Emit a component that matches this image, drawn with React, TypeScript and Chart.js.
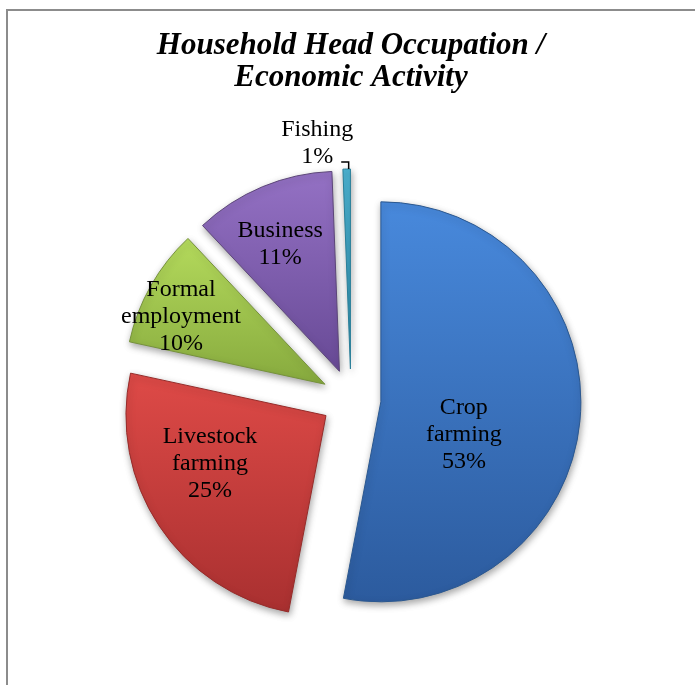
import React, { useEffect, useRef } from 'react';
import { Chart, registerables } from 'chart.js';

Chart.register(...registerables);

// ---- data ----
const categories = ['Crop farming', 'Livestock farming', 'Formal employment', 'Business', 'Fishing'];
const shares = [53.0, 25.4, 9.6, 11.4, 0.6];
const titleLines = ['Household Head Occupation /', 'Economic Activity'];

// ---- styles ----
const colorsTop = ['#4889dc', '#de4a47', '#b4da5c', '#9471c4', '#4cb3d2'];
const colorsBottom = ['#2c5b9e', '#a93030', '#87aa3e', '#684a96', '#2b8aa9'];
const borderColors = ['#2b5890', '#962c2a', '#76923c', '#5c4679', '#2a7f99'];
const labelAngleShift = [16.4, 10.9, -4.5, -2.3, -7.3];
const labelRadius = [0.447, 0.628, 0.794, 0.702, 1.14];

const RADIUS = 200;
const EXPLODE = 30;
const LABEL_FONT = '24px "Liberation Serif", "Times New Roman", serif';
const LABEL_LINE = 27;

function sliceGradient(context: any) {
  const chart = context.chart;
  const area = chart.chartArea;
  const i = context.dataIndex;
  if (!area || i === undefined) return colorsTop[i ?? 0];
  const cx = (area.left + area.right) / 2;
  const cy = (area.top + area.bottom) / 2;
  const total = shares.reduce((a, b) => a + b, 0);
  let acc = 0;
  for (let k = 0; k < i; k++) acc += shares[k];
  const s = -Math.PI / 2 + (acc / total) * Math.PI * 2;
  const e = s + (shares[i] / total) * Math.PI * 2;
  const ys = [0, Math.sin(s), Math.sin(e)];
  for (let a = -Math.PI / 2; a <= Math.PI * 2; a += Math.PI / 2) {
    if (a > s && a < e) ys.push(Math.sin(a));
  }
  const y0 = cy + Math.min(...ys) * RADIUS;
  const y1 = cy + Math.max(...ys) * RADIUS;
  const g = chart.ctx.createLinearGradient(cx, y0, cx, Math.max(y1, y0 + 1));
  g.addColorStop(0, colorsTop[i]);
  g.addColorStop(1, colorsBottom[i]);
  return g;
}

const framePlugin = {
  id: 'frame',
  beforeDraw(chart: any) {
    const ctx = chart.ctx;
    ctx.save();
    ctx.fillStyle = '#ffffff';
    ctx.fillRect(0, 0, chart.width, chart.height);
    ctx.strokeStyle = '#8c8c8c';
    ctx.lineWidth = 2;
    ctx.beginPath();
    ctx.moveTo(7, chart.height);
    ctx.lineTo(7, 10);
    ctx.lineTo(chart.width, 10);
    ctx.stroke();
    ctx.restore();
  },
};

const explodePlugin = {
  id: 'explode',
  beforeDatasetDraw(chart: any, args: any) {
    const ctx = chart.ctx;
    args.meta.data.forEach((arc: any) => {
      const { startAngle, endAngle } = arc.getProps(['startAngle', 'endAngle'], true);
      const mid = (startAngle + endAngle) / 2;
      ctx.save();
      ctx.translate(Math.cos(mid) * EXPLODE, Math.sin(mid) * EXPLODE);
      ctx.shadowColor = 'rgba(0,0,0,0.35)';
      ctx.shadowBlur = 7;
      ctx.shadowOffsetX = 1;
      ctx.shadowOffsetY = 3;
      arc.draw(ctx);
      ctx.restore();
    });
    return false;
  },
};

const labelPlugin = {
  id: 'sliceLabels',
  afterDatasetsDraw(chart: any) {
    const ctx = chart.ctx;
    const meta = chart.getDatasetMeta(0);
    const total = shares.reduce((a, b) => a + b, 0);
    ctx.save();
    ctx.font = LABEL_FONT;
    ctx.fillStyle = '#000000';
    ctx.textAlign = 'center';
    ctx.textBaseline = 'middle';
    meta.data.forEach((arc: any, i: number) => {
      const { x, y, startAngle, endAngle, outerRadius } = arc.getProps(
        ['x', 'y', 'startAngle', 'endAngle', 'outerRadius'],
        true
      );
      const mid = (startAngle + endAngle) / 2;
      const tx = x + Math.cos(mid) * EXPLODE;
      const ty = y + Math.sin(mid) * EXPLODE;
      const ang = mid + (labelAngleShift[i] * Math.PI) / 180;
      const px = tx + Math.cos(ang) * outerRadius * labelRadius[i];
      const py = ty + Math.sin(ang) * outerRadius * labelRadius[i];
      const lines = [...categories[i].split(' '), Math.round((shares[i] / total) * 100) + '%'];
      const n = lines.length;
      lines.forEach((ln, k) => {
        ctx.fillText(ln, px, py + (k - (n - 1) / 2) * LABEL_LINE);
      });
      if (labelRadius[i] > 1) {
        const lastY = py + ((n - 1) / 2) * LABEL_LINE + 5;
        const w = ctx.measureText(lines[n - 1]).width;
        const ox = tx + Math.cos(mid) * outerRadius;
        const oy = ty + Math.sin(mid) * outerRadius;
        ctx.save();
        ctx.strokeStyle = '#000000';
        ctx.lineWidth = 1.5;
        ctx.beginPath();
        ctx.moveTo(px + w / 2 + 8, lastY);
        ctx.lineTo(ox + 2, lastY);
        ctx.lineTo(ox + 2, oy);
        ctx.stroke();
        ctx.restore();
      }
    });
    ctx.restore();
  },
};

export default function App() {
  const canvasRef = useRef<HTMLCanvasElement | null>(null);

  useEffect(() => {
    if (!canvasRef.current) return;
    const chart = new Chart(canvasRef.current, {
      type: 'pie',
      data: {
        labels: categories,
        datasets: [
          {
            data: shares,
            backgroundColor: sliceGradient as any,
            borderColor: borderColors,
            borderWidth: 1,
          },
        ],
      },
      options: {
        animation: false,
        responsive: true,
        maintainAspectRatio: false,
        events: [],
        radius: RADIUS,
        layout: { padding: { left: 7, right: 0, top: 0, bottom: 0 } },
        plugins: {
          legend: { display: false },
          tooltip: { enabled: false },
          title: {
            display: true,
            text: titleLines,
            color: '#000000',
            font: {
              family: '"Liberation Serif", "Times New Roman", serif',
              size: 31,
              style: 'italic',
              weight: 'bold',
              lineHeight: 32 / 31,
            },
            padding: { top: 30, bottom: 19 },
          },
        },
      } as any,
      plugins: [framePlugin, explodePlugin, labelPlugin],
    });
    return () => chart.destroy();
  }, []);

  return (
    <div style={{ position: 'absolute', left: 0, top: 0, width: 695, height: 685 }}>
      <canvas ref={canvasRef} />
    </div>
  );
}
